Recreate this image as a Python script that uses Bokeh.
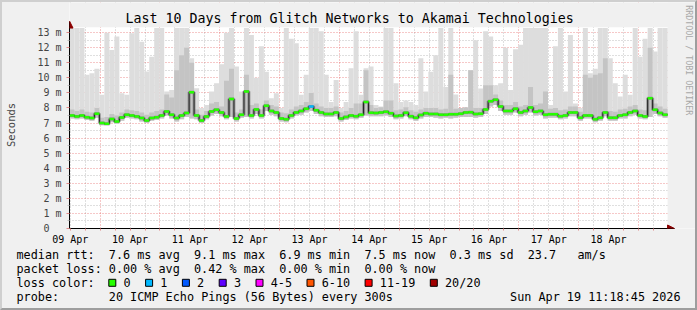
import math
from bokeh.plotting import figure
from bokeh.layouts import column
from bokeh.models import FixedTicker, Range1d, Arrow, NormalHead
from bokeh.core.properties import value
from bokeh.embed import file_html
from bokeh.resources import INLINE

# ---------------- data ----------------
title_text = "Last 10 Days from Glitch Networks to Akamai Technologies"
y_axis_title = "Seconds"
side_text = "RRDTOOL / TOBI OETIKER"
day_labels = ["09 Apr", "10 Apr", "11 Apr", "12 Apr", "13 Apr",
              "14 Apr", "15 Apr", "16 Apr", "17 Apr", "18 Apr"]
y_tick_values = list(range(14))
y_tick_labels = ["0\u00a0\u00a0"] + ["%d m" % v for v in range(1, 14)]

# graph starts 09 Apr ~11:42 (hours after 09 Apr 00:00); one sample per 2 h
start_hour = 11.7
sample_hours = 2.0

median_ms = [
    7.50, 7.44, 7.50, 7.39, 7.33, 7.61, 7.00, 6.95, 7.26, 7.10,
    7.37, 7.55, 7.50, 7.44, 7.33, 7.17, 7.33, 7.39, 7.50, 7.77,
    7.55, 7.33, 7.50, 7.66, 9.05, 7.50, 7.17, 7.44, 7.77, 7.88,
    7.70, 7.44, 8.60, 7.30, 7.55, 9.10, 7.50, 7.90, 7.50, 8.15,
    7.80, 7.70, 7.30, 7.25, 7.50, 7.70, 7.80, 7.95, 8.10, 7.85,
    7.70, 7.60, 7.60, 7.70, 7.30, 7.40, 7.50, 7.45, 7.55, 8.40,
    7.68, 7.66, 7.70, 7.75, 7.65, 7.46, 7.50, 7.68, 7.45, 7.35,
    7.53, 7.65, 7.60, 7.60, 7.55, 7.55, 7.58, 7.59, 7.62, 7.70,
    7.72, 7.60, 7.62, 7.90, 8.45, 8.55, 8.10, 7.80, 7.80, 7.95,
    7.70, 7.80, 8.03, 7.75, 7.80, 7.55, 7.58, 7.59, 7.45, 7.50,
    7.70, 7.70, 7.35, 7.50, 7.50, 7.25, 7.35, 7.70, 7.35, 7.35,
    7.50, 7.55, 7.70, 7.80, 7.50, 7.44, 8.65, 7.88, 7.66, 7.55,
]
smoke_max_ms = [
    13.3, 13.3, 13.3, 10.2, 10.3, 10.6, 8.87, 13.0, 11.85, 12.74,
    8.98, 8.87, 12.96, 13.3, 12.4, 10.42, 11.4, 13.3, 13.3, 9.1,
    9.2, 13.3, 13.3, 13.3, 11.3, 9.31, 7.99, 8.2, 9.1, 9.64,
    10.9, 13.0, 13.3, 10.75, 9.1, 13.3, 12.85, 10.0, 12.1, 10.4,
    8.65, 8.98, 7.99, 13.3, 12.6, 12.3, 8.87, 10.2, 13.3, 13.3,
    13.1, 10.2, 8.4, 9.86, 7.99, 8.4, 10.64, 13.1, 8.87, 10.64,
    10.75, 8.2, 8.1, 13.3, 13.3, 9.64, 8.4, 8.5, 8.4, 8.2,
    11.3, 9.1, 10.4, 11.5, 13.3, 9.4, 13.3, 8.9, 8.0, 8.0,
    10.5, 12.5, 9.3, 13.1, 12.74, 9.5, 9.64, 12.0, 9.2, 11.9,
    12.2, 13.3, 13.3, 13.3, 13.3, 13.3, 8.2, 12.1, 13.3, 9.1,
    12.85, 8.3, 8.0, 13.3, 10.3, 10.6, 13.3, 13.3, 11.3, 9.64,
    8.76, 10.2, 8.87, 13.3, 11.4, 12.6, 13.3, 11.74, 13.3, 13.3,
]
smoke_upper_ms = [
    7.9, 7.8, 7.9, 7.75, 7.7, 8.0, 7.35, 7.4, 7.6, 7.5,
    7.7, 7.9, 7.85, 7.8, 7.7, 7.55, 7.7, 7.8, 7.9, 8.9,
    8.7, 10.5, 11.5, 12.0, 11.0, 7.9, 7.55, 7.8, 8.3, 8.4,
    8.1, 9.8, 10.6, 7.7, 7.9, 10.2, 8.2, 8.3, 7.9, 8.5,
    8.2, 8.1, 7.7, 7.65, 7.9, 8.1, 8.2, 8.4, 9.0, 8.3,
    8.1, 8.0, 8.0, 8.1, 7.7, 7.8, 8.0, 8.3, 8.3, 10.5,
    8.2, 8.0, 8.05, 8.5, 8.5, 7.85, 7.9, 8.05, 7.85, 7.75,
    7.9, 8.0, 8.0, 8.0, 7.9, 7.95, 10.2, 7.95, 8.0, 8.05,
    10.5, 8.0, 8.0, 9.5, 9.5, 8.9, 8.5, 8.2, 8.2, 8.4,
    8.1, 8.2, 9.4, 8.2, 8.3, 9.1, 7.95, 8.0, 7.85, 7.9,
    8.1, 8.1, 7.75, 10.2, 10.0, 10.2, 10.3, 11.3, 7.8, 7.75,
    7.9, 7.95, 8.1, 8.2, 7.9, 7.85, 12.0, 8.3, 8.1, 7.95,
]
smoke_min_ms = [
    7.30, 7.25, 7.30, 7.20, 7.15, 7.35, 6.85, 6.85, 7.05, 6.95,
    7.15, 7.35, 7.30, 7.25, 7.10, 7.00, 7.15, 7.20, 7.30, 7.50,
    7.30, 7.10, 7.25, 7.40, 7.30, 7.25, 7.00, 7.25, 7.50, 7.60,
    7.45, 7.25, 7.40, 7.10, 7.35, 7.40, 7.30, 7.60, 7.30, 7.80,
    7.55, 7.45, 7.10, 7.05, 7.30, 7.50, 7.55, 7.70, 7.80, 7.60,
    7.45, 7.40, 7.40, 7.45, 7.10, 7.20, 7.30, 7.25, 7.35, 7.50,
    7.45, 7.45, 7.45, 7.50, 7.40, 7.25, 7.30, 7.45, 7.25, 7.15,
    7.30, 7.40, 7.40, 7.35, 7.30, 7.35, 7.30, 7.35, 7.40, 7.40,
    7.40, 7.35, 7.40, 7.60, 8.10, 8.20, 7.80, 7.55, 7.55, 7.70,
    7.45, 7.55, 7.70, 7.50, 7.55, 7.30, 7.35, 7.35, 7.25, 7.30,
    7.45, 7.45, 7.15, 7.30, 7.30, 7.05, 7.15, 7.45, 7.15, 7.15,
    7.30, 7.30, 7.45, 7.55, 7.30, 7.25, 7.40, 7.60, 7.45, 7.35,
]
loss_pings = [
    0, 0, 0, 0, 0, 0, 0, 0, 0, 0, 0, 0, 0, 0, 0, 0, 0, 0, 0, 0,
    0, 0, 0, 0, 0, 0, 0, 0, 0, 0, 0, 0, 0, 0, 0, 0, 0, 0, 0, 0,
    0, 0, 0, 0, 0, 0, 0, 0, 1, 0, 0, 0, 0, 0, 0, 0, 0, 0, 0, 0,
    0, 0, 0, 0, 0, 0, 0, 0, 0, 0, 0, 0, 0, 0, 0, 0, 0, 0, 0, 0,
    0, 0, 0, 0, 0, 0, 0, 0, 0, 0, 0, 0, 0, 0, 0, 0, 0, 0, 0, 0,
    0, 0, 0, 0, 0, 0, 0, 0, 0, 0, 0, 0, 0, 0, 0, 0, 0, 0, 0, 0,
]
loss_names = ["0", "1", "2", "3", "4-5", "6-10", "11-19", "20/20"]
loss_upper = [0, 1, 2, 3, 5, 10, 19, 20]
loss_colors = ["#26ff00", "#00b8ff", "#0059ff", "#5e00ff",
               "#ff00ff", "#ff5500", "#ff0000", "#a10000"]

rtt_row = ["median rtt:", "7.6 ms avg", "9.1 ms max", "6.9 ms min",
           "7.5 ms now", "0.3 ms sd", "23.7", "am/s"]
loss_row = ["packet loss:", "0.00 % avg", "0.42 % max", "0.00 % min", "0.00 % now"]
loss_color_title = "loss color:"
probe_row = ["probe:", "20 ICMP Echo Pings (56 Bytes) every 300s"]
stamp_text = "Sun Apr 19 11:18:45 2026"

# ---------------- layout / style ----------------
MONO = "DejaVu Sans Mono"
BG = "#f0f0f0"
ARROW_C = "#8b0000"
BORDER = 2
W = 693
H_MAIN = 245
H_LEG = 310 - 2 * BORDER - H_MAIN
ML, MB = 65, 18
FRAME_W = W - ML
FRAME_H = H_MAIN - MB
PX_H = 2.5          # pixels per hour
PX_MS = 15.133      # pixels per ms
CANVAS_TOP = 13.35  # top of rrd canvas (ms)

n = len(median_ms)
lefts = [start_hour + i * sample_hours for i in range(n)]
rights = [l + sample_hours for l in lefts]
end_hour = rights[-1]
x_end = start_hour + FRAME_W / PX_H
y_end = FRAME_H / PX_MS

def loss_color(v):
    for up, c in zip(loss_upper, loss_colors):
        if v <= up:
            return c
    return loss_colors[-1]

step_colors = [loss_color(v) for v in loss_pings]

p = figure(width=W, height=H_MAIN, x_range=Range1d(start_hour, x_end),
           y_range=Range1d(0, y_end), output_backend="svg", toolbar_location=None,
           min_border_left=ML, min_border_right=0, min_border_top=0,
           min_border_bottom=MB, background_fill_color="#ffffff",
           border_fill_color=BG, outline_line_color=None)
p.frame_align = False

noon_ticks = [12 + 24 * i for i in range(len(day_labels))]
midnight_ticks = [24 * i for i in range(1, 11)]
six_ticks = [h for h in range(12, 252, 6)]
six_minor = [h for h in six_ticks if h % 24 != 0]

# grids
p.xgrid.ticker = FixedTicker(ticks=midnight_ticks, minor_ticks=six_minor)
p.ygrid.ticker = FixedTicker(ticks=y_tick_values[1:],
                             minor_ticks=[v + 0.5 for v in y_tick_values[:-1]])
for g in (p.xgrid, p.ygrid):
    g.grid_line_color = "#e04848"
    g.grid_line_alpha = 0.6
    g.grid_line_dash = "1 2"
    g.minor_grid_line_color = "#8a8a8a"
    g.minor_grid_line_alpha = 0.55
    g.minor_grid_line_dash = "1 2"

# background outside the rrd canvas (covers grid overflow)
p.quad(left=[start_hour], right=[x_end], bottom=[CANVAS_TOP], top=[y_end],
       fill_color=BG, line_color=None)
p.quad(left=[end_hour], right=[x_end], bottom=[0], top=[y_end],
       fill_color=BG, line_color=None)

# smoke
p.quad(left=lefts, right=rights, bottom=smoke_min_ms, top=smoke_max_ms,
       fill_color="#dddddd", line_color=None)
p.quad(left=lefts, right=rights, bottom=smoke_min_ms, top=smoke_upper_ms,
       fill_color="#c4c4c4", line_color=None)

# median
sx = lefts + [end_hour]
sy = median_ms + [median_ms[-1]]
p.step(x=sx, y=sy, mode="after", line_color="#505050", line_width=3, line_alpha=0.45)
p.step(x=sx, y=sy, mode="after", line_color="#202020", line_width=1)
p.segment(x0=lefts, x1=rights, y0=median_ms, y1=median_ms,
          line_color=step_colors, line_width=2.5, line_cap="butt")

# axes
xa = p.xaxis[0]
xa.ticker = FixedTicker(ticks=noon_ticks, minor_ticks=six_ticks)
xa.major_label_overrides = {t: l for t, l in zip(noon_ticks, day_labels)}
xa.major_tick_out = 0
xa.major_tick_in = 0
xa.minor_tick_out = 2
xa.minor_tick_in = 0
xa.minor_tick_line_color = "#e08a8a"
xa.major_label_standoff = 3
xa.major_label_text_font = MONO
xa.major_label_text_font_size = "10px"
xa.major_label_text_color = "#000000"
xa.axis_line_color = "#000000"
xa.bounds = (start_hour, end_hour + 2.8)

ya = p.yaxis[0]
ya.ticker = FixedTicker(ticks=y_tick_values,
                        minor_ticks=[v + 0.5 for v in y_tick_values[:-1]])
ya.major_label_overrides = {v: l for v, l in zip(y_tick_values, y_tick_labels)}
ya.major_tick_out = 3
ya.major_tick_in = 0
ya.major_tick_line_color = "#e08a8a"
ya.minor_tick_out = 2
ya.minor_tick_in = 0
ya.minor_tick_line_color = "#c0c0c0"
ya.major_label_standoff = 5
ya.major_label_text_font = MONO
ya.major_label_text_font_size = "10px"
ya.axis_line_color = "#000000"
ya.bounds = (0, CANVAS_TOP + 0.42)
ya.axis_label = y_axis_title + "\u00a0\u00a0\u00a0"
ya.axis_label_text_font = MONO
ya.axis_label_text_font_size = "10.5px"
ya.axis_label_text_font_style = "normal"
ya.axis_label_standoff = 17

# axis arrows
p.add_layout(Arrow(end=NormalHead(size=7, fill_color=ARROW_C, line_color=ARROW_C),
                   x_start=start_hour, y_start=CANVAS_TOP, x_end=start_hour,
                   y_end=CANVAS_TOP + 0.42, line_alpha=0))
p.add_layout(Arrow(end=NormalHead(size=7, fill_color=ARROW_C, line_color=ARROW_C),
                   x_start=end_hour, y_start=0, x_end=end_hour + 2.8,
                   y_end=0, line_alpha=0))

def px_x(cx):
    return start_hour + (cx - BORDER - ML) / PX_H

def px_y(cy):
    return (FRAME_H + BORDER - cy) / PX_MS

p.text(x=[px_x(348)], y=[px_y(18.5)], text=[title_text], text_font=value(MONO),
       text_font_size="13.3px", text_align="center", text_baseline="middle",
       text_color="#000000")
p.text(x=[px_x(688)], y=[px_y(60)], text=[side_text], text_font=value(MONO),
       text_font_size="8.3px", text_align="center", text_baseline="middle",
       text_color="#a8a8a8", angle=-math.pi / 2)

# ---------------- legend figure ----------------
leg = figure(width=W, height=H_LEG, x_range=Range1d(0, W), y_range=Range1d(H_LEG, 0),
             x_axis_location=None, y_axis_location=None, toolbar_location=None,
             output_backend="svg", min_border=0, background_fill_color=BG,
             border_fill_color=BG, outline_line_color=None)
leg.frame_align = False
leg.grid.visible = False

ADV = 7.1
X0 = 16 - BORDER
rows_y = [254.3 - 247, 268.3 - 247, 282.3 - 247, 296.0 - 247]
FS = "11.8px"

def col_x(c):
    return X0 + c * ADV

rtt_cols = [0, 13, 25, 37, 49, 61, 72, 79]
loss_cols = [0, 13, 25, 37, 49]
probe_cols = [0, 13]

tx, ty, tt = [], [], []
for cols, row, y in ((rtt_cols, rtt_row, rows_y[0]), (loss_cols, loss_row, rows_y[1]),
                     (probe_cols, probe_row, rows_y[3])):
    for c, s in zip(cols, row):
        tx.append(col_x(c)); ty.append(y); tt.append(s)
tx.append(col_x(0)); ty.append(rows_y[2]); tt.append(loss_color_title)

bx = []
cur = col_x(13)
for name in loss_names:
    bx.append(cur + 3.5)
    tx.append(cur + 14.7); ty.append(rows_y[2]); tt.append(name)
    cur = cur + 14.7 + len(name) * ADV + 15

leg.text(x=tx, y=ty, text=tt, text_font=value(MONO), text_font_size=FS,
         text_align="left", text_baseline="middle", text_color="#000000")
leg.text(x=[680 - BORDER], y=[rows_y[3]], text=[stamp_text], text_font=value(MONO),
         text_font_size=FS, text_align="right", text_baseline="middle",
         text_color="#000000")
leg.rect(x=bx, y=[rows_y[2]] * len(bx), width=7, height=7,
         fill_color=loss_colors, line_color="#000000", line_width=1)

layout = column(p, leg, spacing=0,
                styles={"border-style": "solid", "border-width": "2px",
                        "border-color": "#cfcfcf #9e9e9e #9e9e9e #cfcfcf",
                        "background-color": BG})

open("out.html", "w").write(file_html(layout, INLINE))
